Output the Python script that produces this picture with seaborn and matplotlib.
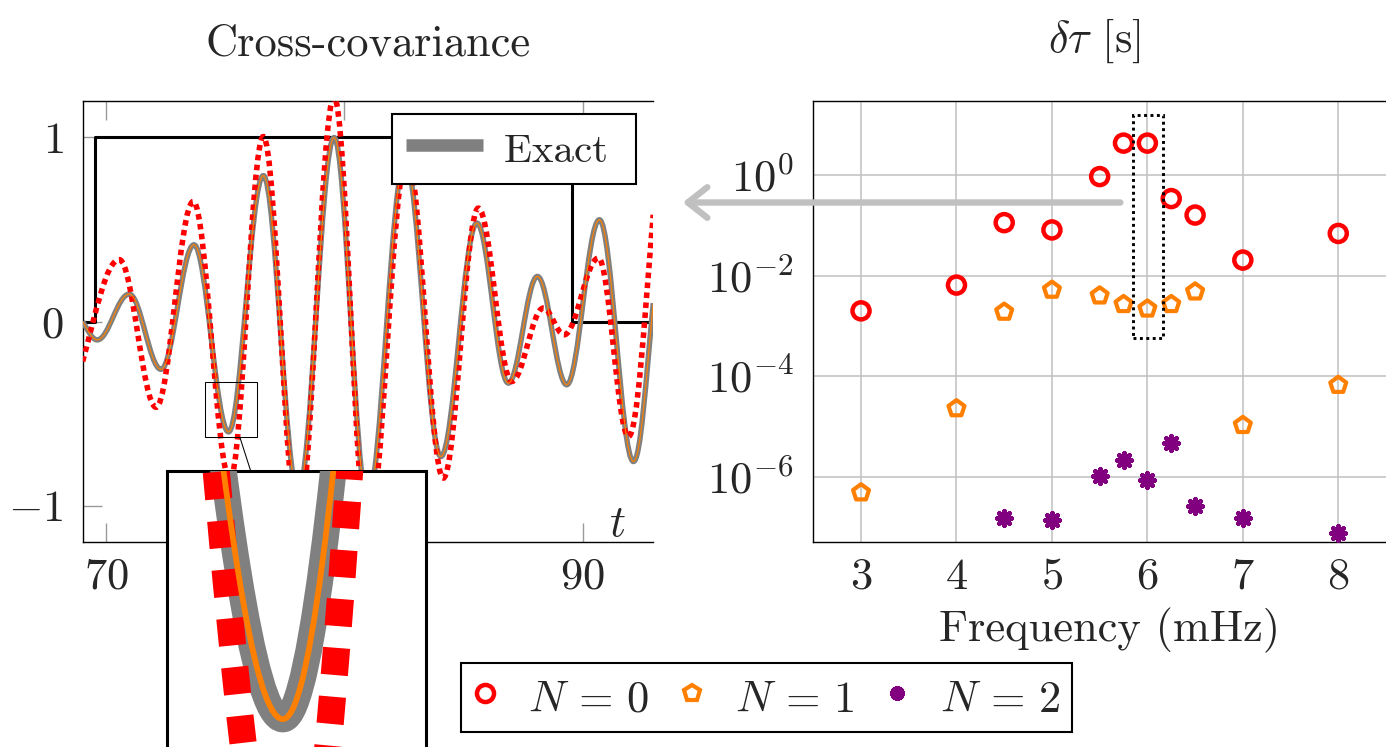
import numpy as np
import matplotlib
matplotlib.use("Agg")
import matplotlib.pyplot as plt
import seaborn as sns
from matplotlib.path import Path
from matplotlib.patches import PathPatch, Rectangle, ConnectionPatch
from matplotlib.lines import Line2D
from matplotlib.ticker import FixedLocator, FixedFormatter, NullLocator

# ---------------- data: left panel (extrema of the curves) ----------------
exact_t = [69.02, 69.63, 70.97, 72.31, 73.69, 75.14, 76.60, 78.06, 79.57, 80.97,
           82.55, 84.05, 85.56, 86.88, 88.10, 89.33, 90.70, 92.13, 92.96]
exact_y = [0.00, -0.10, 0.149, -0.26, 0.417, -0.60, 0.793, -0.93, 1.00, -0.97,
           0.88, -0.734, 0.535, -0.335, 0.245, -0.344, 0.553, -0.761, 0.10]
n1_t = exact_t            # N = 1 approximation lies on top of the exact curve
n1_y = exact_y
n0_t = [69.02, 70.56, 72.10, 73.66, 75.20, 76.60, 78.06, 79.57, 80.97, 82.63,
        84.15, 85.62, 87.02, 88.35, 89.22, 90.66, 91.92, 92.96]
n0_y = [-0.217, 0.336, -0.466, 0.652, -0.86, 1.005, -1.10, 1.22, -1.15, 0.90,
        -0.851, 0.616, -0.326, 0.073, -0.072, 0.345, -0.625, 0.58]
window_t = [69.02, 69.54, 89.56, 92.96]
window_y = [0, 1, 0, 0]
left_xticks = [70, 80, 90]
left_xticklabels = ["$70$", "$80$", "$90$"]
left_yticks = [-1, 0, 1]
left_yticklabels = ["$-1$", "$0$", "$1$"]

# ---------------- data: right panel ----------------
freq_n0 = [3, 4, 4.5, 5, 5.5, 5.75, 6, 6.25, 6.5, 7, 8]
dtau_n0 = [2.0e-3, 6.5e-3, 0.113, 0.081, 0.93, 4.3, 4.3, 0.34, 0.16, 0.0204, 0.069]
freq_n1 = [3, 4, 4.5, 5, 5.5, 5.75, 6, 6.25, 6.5, 7, 8]
dtau_n1 = [4.9e-7, 2.3e-5, 1.9e-3, 5.2e-3, 4.0e-3, 2.7e-3, 2.2e-3, 2.7e-3, 4.8e-3, 1.07e-5, 6.7e-5]
freq_n2 = [4.5, 5, 5.5, 5.75, 6, 6.25, 6.5, 7, 8]
dtau_n2 = [1.5e-7, 1.4e-7, 1.07e-6, 2.2e-6, 8.7e-7, 4.7e-6, 2.6e-7, 1.5e-7, 7.8e-8]
right_xticks = [3, 4, 5, 6, 7, 8]
right_xticklabels = ["$3$", "$4$", "$5$", "$6$", "$7$", "$8$"]
right_yticks = [1e-6, 1e-4, 1e-2, 1e0]
right_yticklabels = ["$10^{-6}$", "$10^{-4}$", "$10^{-2}$", "$10^{0}$"]
legend_labels = [r"$N\,=\,0$", r"$N\,=\,1$", r"$N\,=\,2$"]

RED = "#ff0000"
ORANGE = "#ff8000"
GREY = "#808080"
PURPLE = "#800080"
LIGHT = "#c0c0c0"

sns.set_style("white")
plt.rcParams["font.family"] = ["cmr10"]
plt.rcParams["mathtext.fontset"] = "cm"
plt.rcParams["axes.unicode_minus"] = False
plt.rcParams["axes.formatter.use_mathtext"] = True

W, H = 1386, 747
fig = plt.figure(figsize=(W / 100, H / 100), dpi=100)


def fx(px):
    return px / W


def fy(py):
    return 1 - py / H


def smooth_path(ts, ys):
    ts = np.asarray(ts, float)
    ys = np.asarray(ys, float)
    verts = [(ts[0], ys[0])]
    codes = [Path.MOVETO]
    n = len(ts)
    for i in range(n - 1):
        t0, t1, y0, y1 = ts[i], ts[i + 1], ys[i], ys[i + 1]
        h = 0.3642 * (t1 - t0)
        chord = (y1 - y0) / (t1 - t0)
        s0 = 1.3 * chord if i == 0 else 0.0
        s1 = 1.3 * chord if i == n - 2 else 0.0
        verts += [(t0 + h, y0 + s0 * h), (t1 - h, y1 - s1 * h), (t1, y1)]
        codes += [Path.CURVE4] * 3
    return Path(verts, codes)


def draw_curves(ax, mag):
    ax.add_patch(PathPatch(smooth_path(exact_t, exact_y), fill=False, ec=GREY,
                           lw=3.9 * mag, capstyle="butt", joinstyle="round", zorder=3))
    ax.add_patch(PathPatch(smooth_path(n0_t, n0_y), fill=False, ec=RED,
                           lw=4.0 * mag, ls=(0, (1, 0.8)), capstyle="butt", zorder=4))
    ax.add_patch(PathPatch(smooth_path(n1_t, n1_y), fill=False, ec=ORANGE,
                           lw=0.85 * mag, capstyle="butt", joinstyle="round", zorder=5))


# ---------------- left axes ----------------
ax1 = fig.add_axes([fx(82.7), fy(542.3), (653.3 - 82.7) / W, (542.3 - 100.7) / H])
sns.lineplot(x=window_t, y=window_y, ax=ax1, color="black", lw=2.2,
             drawstyle="steps-post", estimator=None, sort=False, zorder=2)
draw_curves(ax1, 1.0)
ax1.set_xlim(69.022, 92.962)
ax1.set_ylim(-1.2, 1.2)
ax1.xaxis.set_major_locator(FixedLocator(left_xticks))
ax1.xaxis.set_major_formatter(FixedFormatter(left_xticklabels))
ax1.yaxis.set_major_locator(FixedLocator(left_yticks))
ax1.yaxis.set_major_formatter(FixedFormatter(left_yticklabels))
ax1.tick_params(axis="both", direction="in", length=13.5, width=1.0, color="#9a9a9a",
                labelsize=32, top=True, bottom=True, left=True, right=False)
ax1.tick_params(axis="x", pad=11)
ax1.tick_params(axis="y", pad=14)
ax1.set_xlabel("")
ax1.set_ylabel("")
for s in ["left", "top", "bottom"]:
    ax1.spines[s].set_color("black")
    ax1.spines[s].set_linewidth(1.0)
ax1.spines["right"].set_visible(False)

# zoom rectangle
ax1.add_patch(Rectangle((74.166, -0.6304), 2.182, 0.3011, fill=False, ec="black",
                        lw=0.75, zorder=6))

leg1 = ax1.legend([Line2D([], [], color=GREY, lw=9, solid_capstyle="butt")], ["Exact "],
                  loc="upper right", bbox_to_anchor=(0.9692, 0.9692), borderaxespad=0,
                  fontsize=29.5, frameon=True, fancybox=False, edgecolor="black",
                  framealpha=1, handlelength=1.9, handletextpad=0.51, borderpad=0.34,
                  handleheight=1.1)
leg1.get_frame().set_linewidth(1.5)
leg1.set_zorder(7)

# ---------------- inset ----------------
ax_in = fig.add_axes([fx(167.3), fy(752), 259 / W, 281 / H], zorder=10)
ax_in.set_facecolor("white")
draw_curves(ax_in, 4.9)
ax_in.set_xlim(74.166, 76.348)
ax_in.set_ylim(-0.6359, -0.3293)
ax_in.set_xticks([])
ax_in.set_yticks([])
for s in ax_in.spines.values():
    s.set_color("black")
    s.set_linewidth(2.2)

con = ConnectionPatch(xyA=(75.62, -0.6304), coordsA=ax1.transData,
                      xyB=((250.7 - 167.3) / 259, 1.0), coordsB=ax_in.transAxes,
                      color="black", lw=0.75)
fig.add_artist(con)

# ---------------- right axes ----------------
ax2 = fig.add_axes([fx(813.3), fy(542.3), (1407 - 813.3) / W, (542.3 - 100.7) / H])
ax2.set_yscale("log")
ax2.set_axisbelow(True)
ax2.grid(True, which="major", color=LIGHT, lw=1.1)
sns.scatterplot(x=freq_n0, y=dtau_n0, ax=ax2, marker="o", s=151, facecolor="none",
                edgecolor=RED, linewidth=3.2, zorder=3)
sns.scatterplot(x=freq_n1, y=dtau_n1, ax=ax2, marker="p", s=146, facecolor="none",
                edgecolor=ORANGE, linewidth=3.0, zorder=3)
sns.scatterplot(x=freq_n2, y=dtau_n2, ax=ax2, marker=(8, 2, 0), s=110,
                color=PURPLE, linewidth=3.2, zorder=3)
ax2.set_xlim(2.5, 8.72)
ax2.set_ylim(10 ** -7.297, 10 ** 1.476)
ax2.xaxis.set_major_locator(FixedLocator(right_xticks))
ax2.xaxis.set_major_formatter(FixedFormatter(right_xticklabels))
ax2.yaxis.set_major_locator(FixedLocator(right_yticks))
ax2.yaxis.set_major_formatter(FixedFormatter(right_yticklabels))
ax2.yaxis.set_minor_locator(NullLocator())
ax2.tick_params(axis="both", direction="in", length=10, width=1.0, color="#808080",
                labelsize=32)
ax2.tick_params(axis="x", pad=11)
ax2.tick_params(axis="y", pad=14)
ax2.set_xlabel("")
ax2.set_ylabel("")
for s in ax2.spines.values():
    s.set_color("black")
    s.set_linewidth(1.0)

# dotted selection box around f = 6 mHz
ax2.add_patch(Rectangle((5.845, 10 ** -3.233), 0.315, 10 ** 1.192 - 10 ** -3.233,
                        fill=False, ec="black", lw=2.1, ls=(0, (1, 1.2)), zorder=4))

# grey arrow pointing to the left panel
ax2.annotate("", xy=(fx(682.7), fy(202.5)), xycoords="figure fraction",
             xytext=(5.717, 0.284), textcoords="data",
             arrowprops=dict(arrowstyle="->,head_length=0.7,head_width=0.55", color=LIGHT,
                             lw=4.6, shrinkA=0, shrinkB=0, mutation_scale=20),
             annotation_clip=False, zorder=8)

# ---------------- bottom legend ----------------
handles = [
    Line2D([], [], ls="none", marker="o", ms=12.3, mfc="none", mec=RED, mew=3.2),
    Line2D([], [], ls="none", marker="p", ms=12.1, mfc="none", mec=ORANGE, mew=3.0),
    Line2D([], [], ls="none", marker=(8, 2, 0), ms=10.5, color=PURPLE, mec=PURPLE, mew=3.2),
]
leg2 = fig.legend(handles, legend_labels, loc="lower left",
                  bbox_to_anchor=(fx(461), fy(731.7)), borderaxespad=0, ncol=3,
                  fontsize=32, handlelength=0.6, handletextpad=0.66, columnspacing=0.66,
                  handleheight=1.15, borderpad=0.25, frameon=True, fancybox=False,
                  edgecolor="black", framealpha=1)
leg2.get_frame().set_linewidth(1.5)

# ---------------- texts ----------------
fig.text(fx(368), fy(56), "Cross-covariance", ha="center", va="baseline", fontsize=32)
fig.text(fx(1094), fy(52), r"$\delta\tau$ [s]", ha="center", va="baseline", fontsize=32)
fig.text(fx(1110), fy(641), "Frequency (mHz)", ha="center", va="baseline", fontsize=32)
fig.text(fx(617.5), fy(525), "$t$", ha="center", va="center", fontsize=32)

fig.savefig("out.png", dpi=100)
